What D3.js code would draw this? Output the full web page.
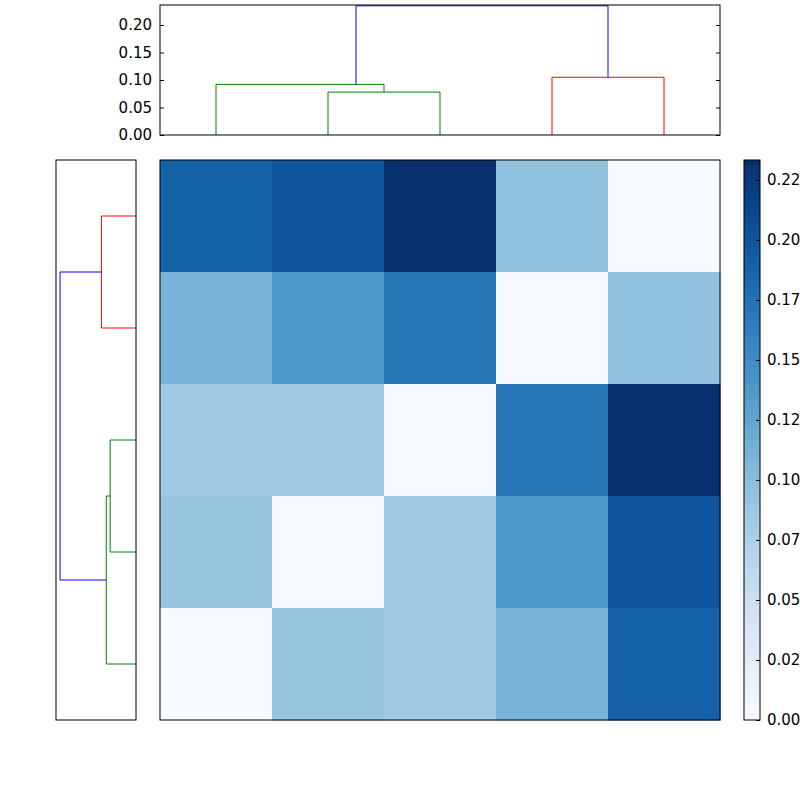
<!DOCTYPE html><html><head><script src="https://cdn.jsdelivr.net/npm/d3@7"></script>
<style>body{margin:0;background:#fff}text{font-family:"DejaVu Sans";font-size:15px}</style></head><body>
<svg id="c" width="800" height="800"></svg>
<script>
const matrix=[
[0.19,0.20,0.233,0.095,0.0],
[0.11,0.14,0.17,0.0,0.095],
[0.085,0.085,0.0,0.17,0.233],
[0.09,0.0,0.085,0.14,0.20],
[0.0,0.09,0.085,0.11,0.19]];
// dendrogram links: [leftPos, rightPos, height, color]; positions in leaf index units (0..4)
const topLinks=[[1,2,0.078,"green",0,0],[0,1.5,0.092,"green",0,0.078],[3,4,0.105,"red",0,0],[1.25,3.5,0.235,"blue",0.092,0.105]];
const leftLinks=[[0,1,0.107,"red",0,0],[2,3,0.08,"green",0,0],[2.5,4,0.092,"green",0.08,0],[0.5,3.25,0.235,"blue",0.107,0.092]];
const topTicks=[0,0.05,0.10,0.15,0.20];
const cbTicks=[0,0.025,0.05,0.075,0.10,0.125,0.15,0.175,0.20,0.225];
const cbLabels=["0.00","0.02","0.05","0.07","0.10","0.12","0.15","0.17","0.20","0.22"];
const vmax=0.2333;
const svg=d3.select("#c");
const color=d3.scaleSequential(d3.interpolateBlues).domain([0,vmax]);
const hx=d3.scaleBand().domain(d3.range(5)).range([160,720]);
const hy=d3.scaleBand().domain(d3.range(5)).range([160,720]);
matrix.forEach((row,i)=>row.forEach((v,j)=>svg.append("rect").attr("x",hx(j)).attr("y",hy(i)).attr("width",hx.bandwidth()+0.5).attr("height",hy.bandwidth()+0.5).attr("fill",color(v))));
svg.append("rect").attr("x",160).attr("y",160).attr("width",560).attr("height",560).attr("fill","none").attr("stroke","#000");
// top dendrogram
const lp=d3.scaleLinear().domain([-0.5,4.5]).range([160,720]);
const ty=d3.scaleLinear().domain([0,0.2364]).range([135,5]);
topLinks.forEach(([a,b,h,c,ha,hb])=>svg.append("path").attr("d",`M${lp(a)},${ty(ha)}V${ty(h)}H${lp(b)}V${ty(hb)}`).attr("fill","none").attr("stroke",c));
svg.append("rect").attr("x",160).attr("y",5).attr("width",560).attr("height",130).attr("fill","none").attr("stroke","#000");
const ay=d3.axisLeft(ty).tickValues(topTicks).tickFormat(d3.format(".2f")).tickSize(-4).tickPadding(8);
const g=svg.append("g").attr("transform","translate(160,0)").call(ay);
g.select(".domain").remove();g.selectAll("text").style("font-size","15px").style("font-family","DejaVu Sans").attr("fill","#000");
svg.append("g").attr("transform","translate(720,0)").call(d3.axisRight(ty).tickValues(topTicks).tickSize(-4).tickFormat("")).select(".domain").remove();
// left dendrogram
const ly=d3.scaleLinear().domain([-0.5,4.5]).range([160,720]);
const lx=d3.scaleLinear().domain([0,0.2475]).range([136,56]);
leftLinks.forEach(([a,b,h,c,ha,hb])=>svg.append("path").attr("d",`M${lx(ha)},${ly(a)}H${lx(h)}V${ly(b)}H${lx(hb)}`).attr("fill","none").attr("stroke",c));
svg.append("rect").attr("x",56).attr("y",160).attr("width",80).attr("height",560).attr("fill","none").attr("stroke","#000");
// colorbar
const cy=d3.scaleLinear().domain([0,vmax]).range([720,160]);
const defs=svg.append("defs");const lg=defs.append("linearGradient").attr("id","gr").attr("x1",0).attr("y1",1).attr("x2",0).attr("y2",0);
d3.range(0,1.001,0.1).forEach(t=>lg.append("stop").attr("offset",t).attr("stop-color",color(t*vmax)));
svg.append("rect").attr("x",744).attr("y",160).attr("width",16).attr("height",560).attr("fill","url(#gr)").attr("stroke","#000");
const cg=svg.append("g").attr("transform","translate(760,0)").call(d3.axisRight(cy).tickValues(cbTicks).tickFormat((d,i)=>cbLabels[i]).tickSize(-4).tickPadding(7));
cg.select(".domain").remove();cg.selectAll("text").style("font-size","15px").style("font-family","DejaVu Sans").attr("fill","#000");
</script></body></html>
